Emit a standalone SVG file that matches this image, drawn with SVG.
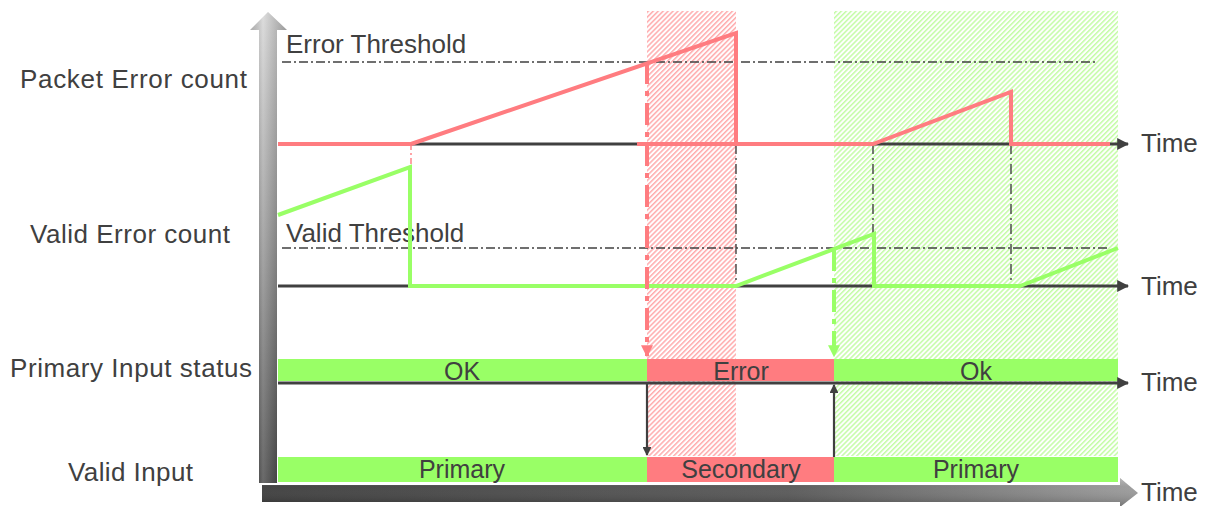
<svg xmlns="http://www.w3.org/2000/svg" width="1211" height="506" viewBox="0 0 1211 506">
  <defs>
    <style>
      .lbl { font-family: "Liberation Sans", Arial, sans-serif; font-size: 26px; fill: #404040; }
      .bartxt { font-family: "Liberation Sans", Arial, sans-serif; font-size: 25px; fill: #404040; text-anchor: middle; }
      .axis { stroke: #404040; stroke-width: 3; fill: none; }
      .thr { stroke: #404040; stroke-width: 1.6; fill: none; stroke-dasharray: 9 3 2 3; }
      .guide { stroke: #404040; stroke-width: 1.4; fill: none; stroke-dasharray: 10 4 2 4; }
      .red { stroke: #ff7c80; stroke-width: 4; fill: none; }
      .green { stroke: #99ff66; stroke-width: 4; fill: none; }
      .redtrig { stroke: #ff7c80; stroke-width: 4; fill: none; stroke-dasharray: 22 7 5 7; }
      .greentrig { stroke: #99ff66; stroke-width: 4; fill: none; stroke-dasharray: 22 7 5 7; }
      .bar-ok { fill: #99ff66; }
      .bar-err { fill: #ff7c80; }
    </style>
    <pattern id="hatchRed" width="3.5" height="3.5" patternUnits="userSpaceOnUse" patternTransform="rotate(-45)">
      <rect width="3.5" height="3.5" fill="#ffffff"/>
      <rect width="3.5" height="1.5" fill="#ffabad"/>
    </pattern>
    <pattern id="hatchGreen" width="3.5" height="3.5" patternUnits="userSpaceOnUse" patternTransform="rotate(-45)">
      <rect width="3.5" height="3.5" fill="#ffffff"/>
      <rect width="3.5" height="1.5" fill="#c4fca6"/>
    </pattern>
    <linearGradient id="vShaft" x1="0" y1="0" x2="0" y2="1">
      <stop offset="0" stop-color="#d2d2d2"/>
      <stop offset="0.5" stop-color="#8a8a8a"/>
      <stop offset="1" stop-color="#383838"/>
    </linearGradient>
    <linearGradient id="vShine" x1="0" y1="0" x2="1" y2="0">
      <stop offset="0" stop-color="#000000" stop-opacity="0.15"/>
      <stop offset="0.35" stop-color="#ffffff" stop-opacity="0.25"/>
      <stop offset="1" stop-color="#000000" stop-opacity="0.25"/>
    </linearGradient>
    <linearGradient id="hShaft" x1="0" y1="0" x2="1" y2="0">
      <stop offset="0" stop-color="#3a3a3a"/>
      <stop offset="0.6" stop-color="#555555"/>
      <stop offset="1" stop-color="#9a9a9a"/>
    </linearGradient>
    <linearGradient id="hShine" x1="0" y1="0" x2="0" y2="1">
      <stop offset="0" stop-color="#ffffff" stop-opacity="0.3"/>
      <stop offset="0.3" stop-color="#ffffff" stop-opacity="0.05"/>
      <stop offset="1" stop-color="#000000" stop-opacity="0.25"/>
    </linearGradient>
    <marker id="arrBlack" viewBox="0 0 10 10" refX="9" refY="5" markerWidth="4" markerHeight="4" orient="auto">
      <path d="M0,0 L10,5 L0,10 z" fill="#404040"/>
    </marker>
    <marker id="arrRed" viewBox="0 0 10 10" refX="9" refY="5" markerWidth="3" markerHeight="3" orient="auto">
      <path d="M0,0 L10,5 L0,10 z" fill="#ff7c80"/>
    </marker>
    <marker id="arrGreen" viewBox="0 0 10 10" refX="9" refY="5" markerWidth="3" markerHeight="3" orient="auto">
      <path d="M0,0 L10,5 L0,10 z" fill="#99ff66"/>
    </marker>
  </defs>

  <rect width="1211" height="506" fill="#ffffff"/>

  <!-- hatched state windows -->
  <g id="window-error">
    <rect x="647" y="11" width="89" height="445" fill="url(#hatchRed)"/>
  </g>
  <g id="window-recover">
    <rect x="834" y="11" width="284" height="445" fill="url(#hatchGreen)"/>
  </g>

  <!-- 3D axes -->
  <g id="axis-vertical">
    <path d="M259,483 L259,30 L250,30 L268,12 L287,30 L277,30 L277,483 z" fill="url(#vShaft)"/>
    <path d="M259,483 L259,30 L250,30 L268,12 L287,30 L277,30 L277,483 z" fill="url(#vShine)"/>
  </g>
  <g id="axis-horizontal">
    <path d="M262,485 L1120,485 L1120,478 L1138,493 L1120,507 L1120,502 L262,502 z" fill="url(#hShaft)"/>
    <path d="M262,485 L1120,485 L1120,478 L1138,493 L1120,507 L1120,502 L262,502 z" fill="url(#hShine)"/>
  </g>

  <!-- row labels -->
  <g id="labels">
    <text class="lbl" x="20" y="88" textLength="227" lengthAdjust="spacing">Packet Error count</text>
    <text class="lbl" x="30" y="243" textLength="200" lengthAdjust="spacing">Valid Error count</text>
    <text class="lbl" x="10" y="377" textLength="242" lengthAdjust="spacing">Primary Input status</text>
    <text class="lbl" x="68" y="481" textLength="125" lengthAdjust="spacing">Valid Input</text>
    <text class="lbl" x="286" y="53">Error Threshold</text>
    <text class="lbl" x="286" y="242">Valid Threshold</text>
    <text class="lbl" x="1141" y="152">Time</text>
    <text class="lbl" x="1141" y="295">Time</text>
    <text class="lbl" x="1141" y="391">Time</text>
    <text class="lbl" x="1141" y="501">Time</text>
  </g>

  <!-- status bars -->
  <g id="primary-status">
    <rect class="bar-ok" x="278" y="359" width="369" height="22"/>
    <rect class="bar-err" x="647" y="359" width="187" height="22"/>
    <rect class="bar-ok" x="834" y="359" width="284" height="22"/>
    <text class="bartxt" x="462" y="380">OK</text>
    <text class="bartxt" x="741" y="380">Error</text>
    <text class="bartxt" x="976" y="380">Ok</text>
  </g>
  <g id="valid-input">
    <rect class="bar-ok" x="278" y="457" width="369" height="25"/>
    <rect class="bar-err" x="647" y="457" width="187" height="25"/>
    <rect class="bar-ok" x="834" y="457" width="284" height="25"/>
    <text class="bartxt" x="462" y="478">Primary</text>
    <text class="bartxt" x="741" y="478">Secondary</text>
    <text class="bartxt" x="976" y="478">Primary</text>
  </g>

  <g id="connectors">
    <!-- time baselines -->
    <line class="axis" x1="278" y1="144" x2="1128" y2="144" marker-end="url(#arrBlack)"/>
    <line class="axis" x1="278" y1="286" x2="1128" y2="286" marker-end="url(#arrBlack)"/>
    <line class="axis" x1="278" y1="383" x2="1128" y2="383" marker-end="url(#arrBlack)"/>

    <!-- thresholds -->
    <line class="thr" x1="282" y1="62" x2="1095" y2="62"/>
    <line class="thr" x1="282" y1="248" x2="1108" y2="248"/>

    <!-- guide verticals -->
    <line class="guide" x1="736" y1="144" x2="736" y2="286"/>
    <line class="guide" x1="873" y1="144" x2="873" y2="286"/>
    <line class="guide" x1="1011" y1="144" x2="1011" y2="286"/>
    <line x1="411" y1="144" x2="411" y2="167" stroke="#ff7c80" stroke-width="1.4" stroke-dasharray="6 3 2 3"/>

    <!-- packet error count trace -->
    <polyline class="red" points="278,144 411,144"/>
    <polyline class="red" points="411,144 736,33 736,144"/>
    <polyline class="red" points="637,144 873,144 1011,92 1011,144 1110,144"/>

    <!-- valid error count trace -->
    <polyline class="green" points="278,215 410,167 410,286 736,286 874,234 874,286 1020,286 1118,248"/>

    <!-- triggers -->
    <line class="redtrig" x1="647" y1="62" x2="647" y2="356" marker-end="url(#arrRed)"/>
    <line class="greentrig" x1="834" y1="249" x2="834" y2="356" marker-end="url(#arrGreen)"/>

    <!-- switch-over arrows -->
    <line x1="647" y1="383" x2="647" y2="455" stroke="#404040" stroke-width="2.2" marker-end="url(#arrBlack)"/>
    <line x1="834" y1="457" x2="834" y2="385" stroke="#404040" stroke-width="2.2" marker-end="url(#arrBlack)"/>
  </g>
</svg>
